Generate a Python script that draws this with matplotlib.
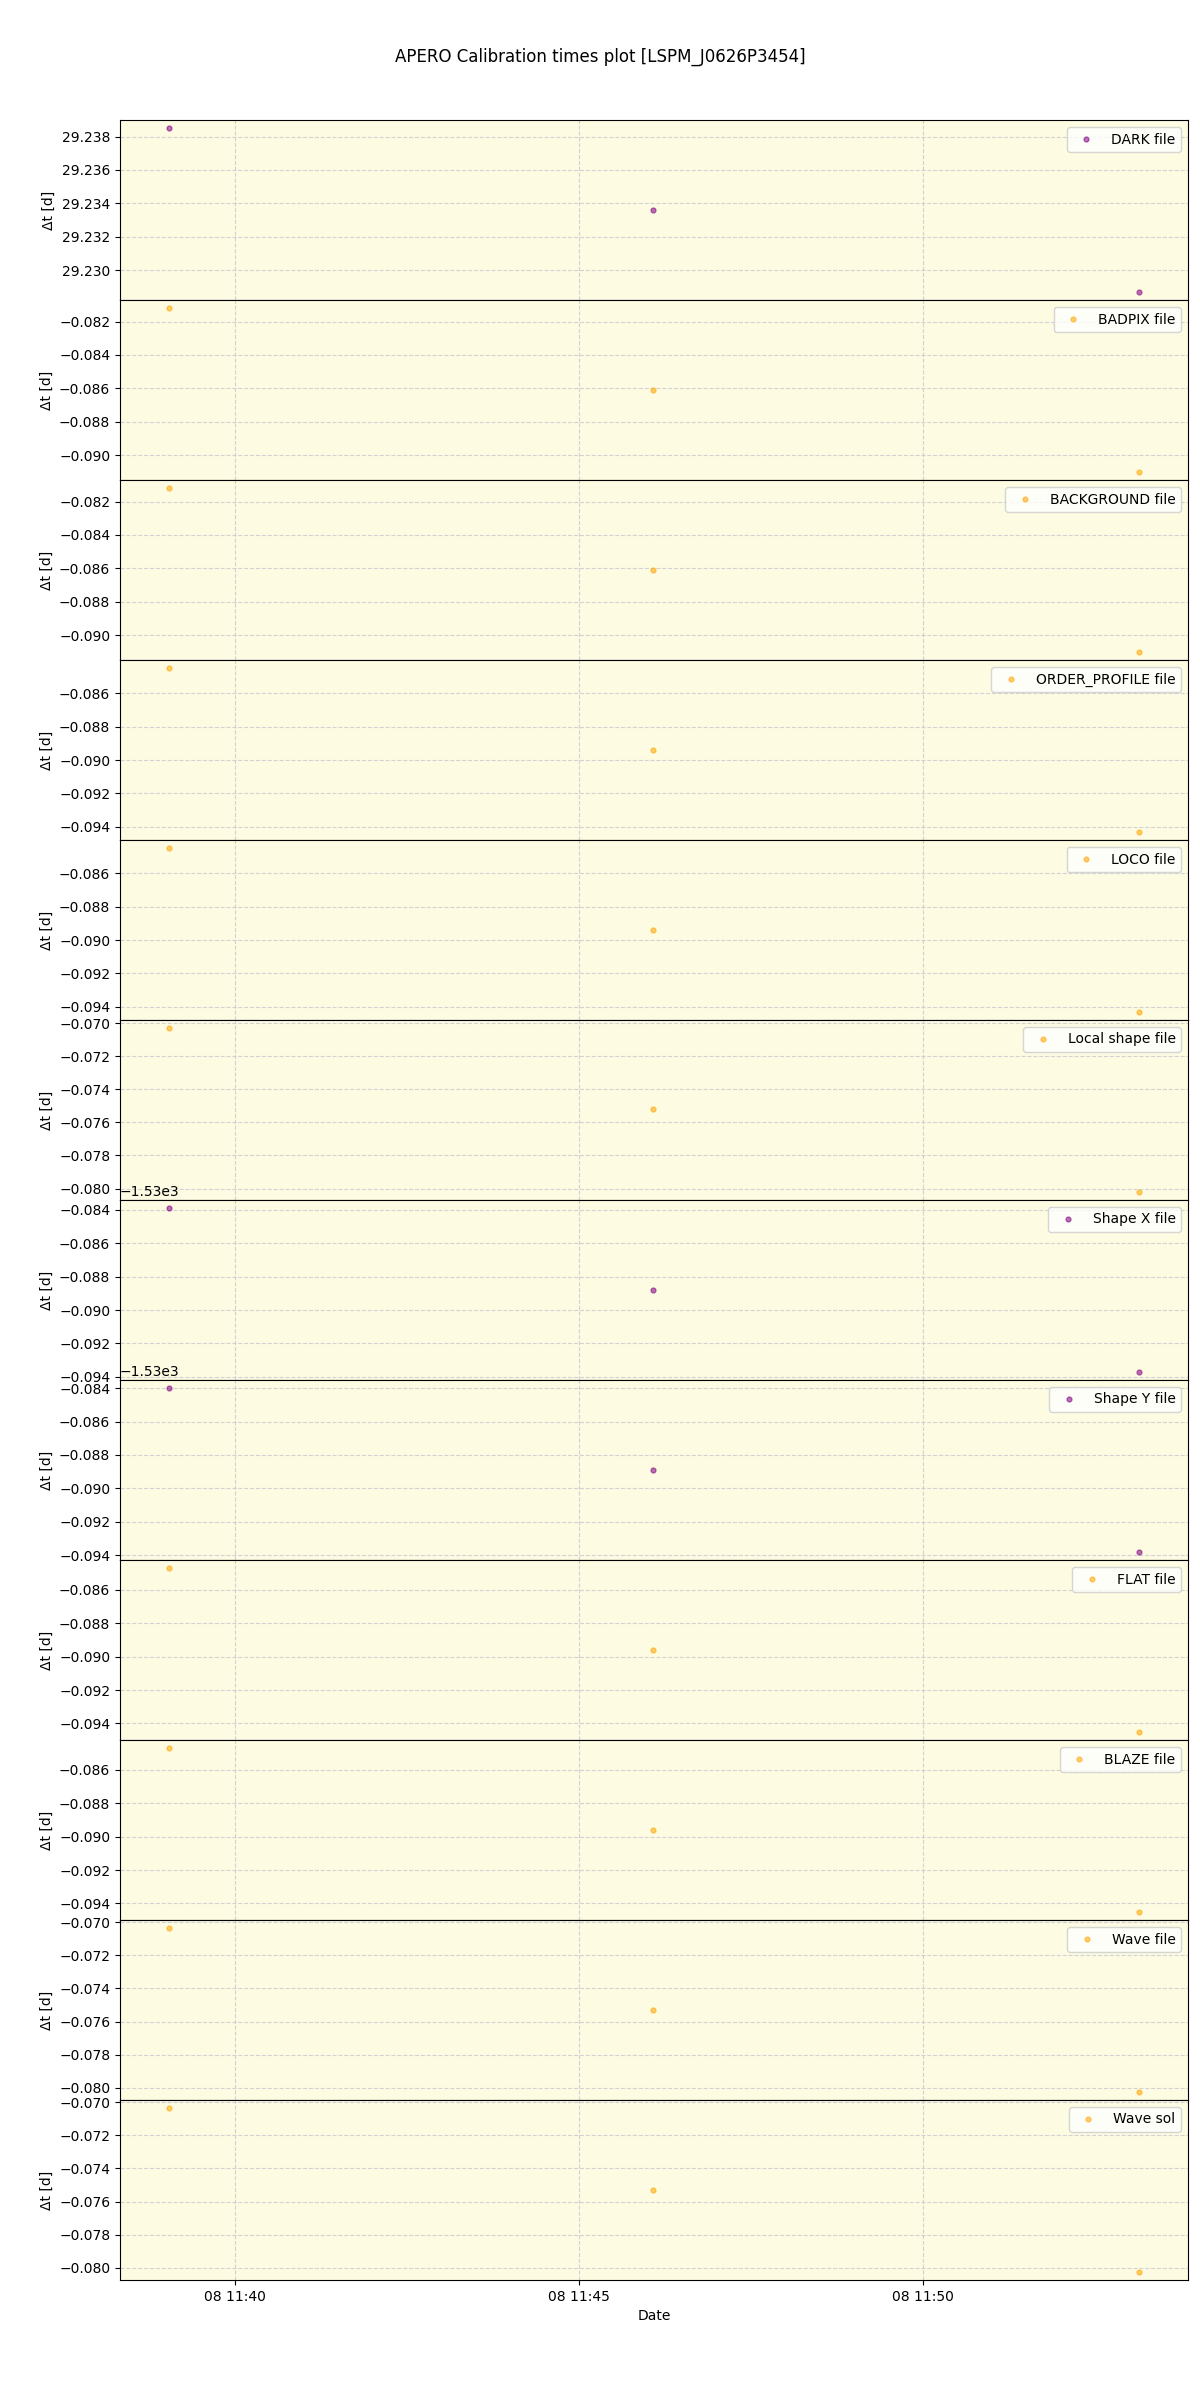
#!/usr/bin/env python3
import datetime

import matplotlib
matplotlib.use('Agg')
import matplotlib.pyplot as plt

obs_times = [datetime.datetime(2021, 1, 8, 11, 39, 2),
             datetime.datetime(2021, 1, 8, 11, 46, 5),
             datetime.datetime(2021, 1, 8, 11, 53, 9)]

labels = ['DARK file', 'BADPIX file', 'BACKGROUND file', 'ORDER_PROFILE file',
          'LOCO file', 'Local shape file', 'Shape X file', 'Shape Y file',
          'FLAT file', 'BLAZE file', 'Wave file', 'Wave sol']

dark = [29.2385, 29.2336, 29.2287]
badpix = [-0.0812, -0.0861, -0.0910]
background = [-0.0812, -0.0861, -0.0910]
order_profile = [-0.0845, -0.0894, -0.0943]
loco = [-0.0845, -0.0894, -0.0943]
local_shape = [-0.0703, -0.0752, -0.0802]
shape_x = [-1530.0839, -1530.0888, -1530.0937]
shape_y = [-1530.0840, -1530.0889, -1530.0938]
flat = [-0.0847, -0.0896, -0.0945]
blaze = [-0.0847, -0.0896, -0.0945]
wave_file = [-0.07036, -0.07527, -0.08024]
wave_sol = [-0.07036, -0.07527, -0.08024]

series = [dark, badpix, background, order_profile, loco, local_shape,
          shape_x, shape_y, flat, blaze, wave_file, wave_sol]
colors = ['purple', 'orange', 'orange', 'orange', 'orange', 'orange',
          'purple', 'purple', 'orange', 'orange', 'orange', 'orange']

fig, axes = plt.subplots(len(series), 1, figsize=(12, 24), dpi=100, sharex=True)
fig.subplots_adjust(left=0.1, right=0.99, top=0.95, bottom=0.05, hspace=0)

for ax, values, label, color in zip(axes, series, labels, colors):
    ax.set_facecolor('#fdfbe2')
    ax.plot(obs_times, values, ls='None', marker='o', ms=3.5,
            color=color, alpha=0.55, label=label)
    ax.grid(True, color='#c8c8d0', linestyle='--', linewidth=0.8, alpha=0.8)
    ax.set_axisbelow(True)
    ax.set_ylabel('\u0394t [d]')
    ax.legend(loc='upper right')

axes[-1].set_xlabel('Date')
fig.suptitle('APERO Calibration times plot [LSPM_J0626P3454]')

fig.savefig('out.png')
